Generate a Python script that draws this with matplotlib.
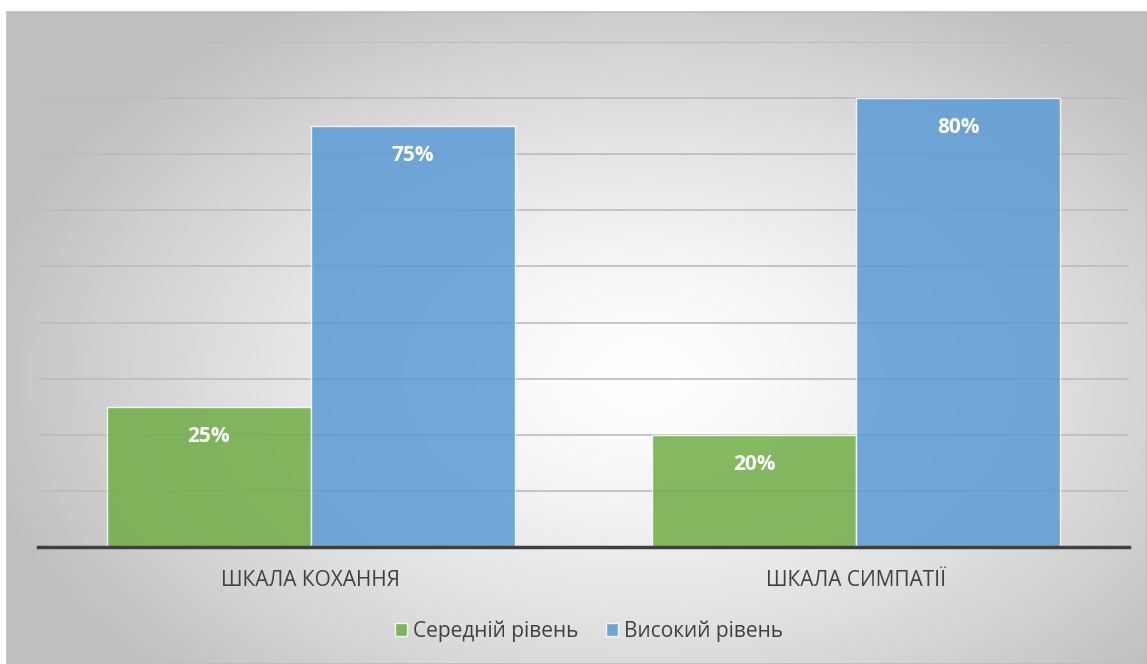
import numpy as np
import matplotlib.pyplot as plt
from matplotlib.patches import Rectangle

plt.rcParams['font.family'] = ['Open Sans', 'DejaVu Sans']

categories = ['ШКАЛА КОХАННЯ', 'ШКАЛА СИМПАТІЇ']
series_names = ['Середній рівень', 'Високий рівень']
medium = [25, 20]
high = [75, 80]
colors = ['#70ad47', '#5b9bd5']

W, H = 1147, 664
fig = plt.figure(figsize=(W / 100, H / 100), dpi=100)

# background: radial gradient inside a framed chart area
bg = fig.add_axes([0, 0, 1, 1], zorder=0)
bg.set_xlim(0, W)
bg.set_ylim(H, 0)
bg.axis('off')
yy, xx = np.mgrid[0:H, 0:W]
r = np.sqrt(((xx - 640) / 680.0) ** 2 + ((yy - 370) / 440.0) ** 2)
shade = 1.0 - 0.25 * np.clip(r, 0, 1) ** 1.4
img = np.dstack([shade, shade, shade])
bg.imshow(img, extent=(7, W, H, 12), aspect='auto', interpolation='bilinear')
bg.add_patch(Rectangle((7, 12), W - 7, H - 12, fill=False, edgecolor='#bdbdbd', lw=1.2))

ax = fig.add_axes([38 / W, 1 - 547 / H, (1129 - 38) / W, (547 - 42) / H], zorder=1)
ax.set_facecolor('none')

x = np.arange(len(categories))
bw = 0.374
b1 = ax.bar(x - bw / 2, medium, bw, color=colors[0], alpha=0.85, edgecolor='white',
            linewidth=1, label=series_names[0])
b2 = ax.bar(x + bw / 2, high, bw, color=colors[1], alpha=0.85, edgecolor='white',
            linewidth=1, label=series_names[1])

for bars, vals in [(b1, medium), (b2, high)]:
    for rect, v in zip(bars, vals):
        ax.text(rect.get_x() + rect.get_width() / 2, v - 5.3, f'{v}%', ha='center', va='center',
                color='white', fontsize=15, fontweight='bold')

ax.set_xlim(-0.5, 1.5)
ax.set_ylim(0, 90)
ax.set_yticks(np.arange(0, 91, 10))
ax.yaxis.grid(True, color='#bcbcbc', linewidth=1.2)
ax.set_axisbelow(True)
ax.tick_params(axis='y', left=False, labelleft=False)
ax.tick_params(axis='x', bottom=False, pad=13, labelsize=15, labelcolor='#404040')
ax.set_xticks(x)
ax.set_xticklabels(categories)
for s in ['top', 'right', 'left']:
    ax.spines[s].set_visible(False)
ax.spines['bottom'].set_color('#404040')
ax.spines['bottom'].set_linewidth(2.5)

fig.legend(handles=[b1, b2], labels=series_names, loc='center', bbox_to_anchor=(589 / W, 1 - 631 / H),
           ncol=2, frameon=False, fontsize=15, labelcolor='#404040', handlelength=0.6,
           handleheight=0.6, handletextpad=0.3, columnspacing=1.3)

fig.savefig('out.png', dpi=100)
